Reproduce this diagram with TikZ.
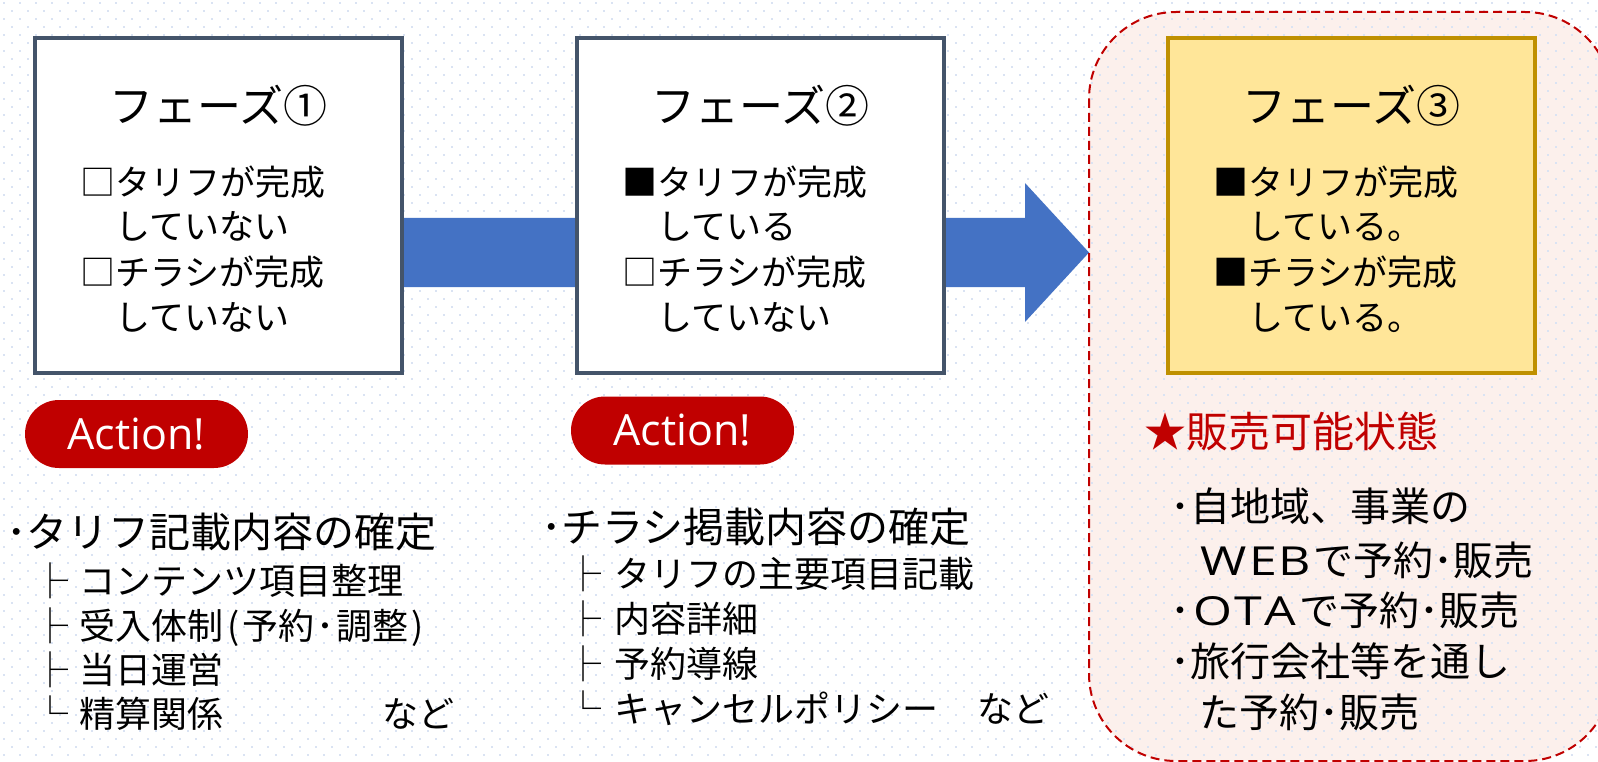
\documentclass[tikz,border=0pt]{standalone}
\usepackage{fontspec}
\usepackage{graphicx}
\setmainfont{Noto Sans CJK JP}
\newfontfamily\latinfont{Open Sans}
\newcommand{\wideltn}[1]{\scalebox{1.25}[1]{\latinfont #1}}
\definecolor{dotc}{RGB}{218,227,243}
\definecolor{pinkbg}{RGB}{252,240,236}
\definecolor{darkred}{RGB}{192,0,0}
\definecolor{slate}{RGB}{68,84,106}
\definecolor{arrowblue}{RGB}{68,114,196}
\definecolor{yel}{RGB}{255,230,153}
\definecolor{gold}{RGB}{191,144,0}
\begin{document}
\begin{tikzpicture}[x=1pt,y=-1pt,
  dotline/.style={line width=2pt,color=dotc,dash pattern=on 2pt off 14pt},
  phasebox/.style={draw=slate,fill=white,line width=4pt,minimum width=367pt,minimum height=335pt,inner sep=0pt},
  goalbox/.style={draw=gold,fill=yel,line width=4pt,minimum width=367pt,minimum height=335pt,inner sep=0pt},
  hdr/.style={font=\fontsize{44}{50}\selectfont,inner sep=0pt,anchor=base},
  bl/.style={font=\fontsize{35}{42}\selectfont,inner sep=0pt,anchor=base west},
  pill/.style={fill=darkred,text=white,rounded corners=34pt,minimum width=223pt,minimum height=68pt,inner sep=0pt,font=\latinfont\fontsize{43}{48}\selectfont},
  lhead/.style={font=\fontsize{41}{48}\selectfont,inner sep=0pt,anchor=base west},
  sub/.style={font=\fontsize{36}{42}\selectfont,inner sep=0pt,anchor=base west},
  rl/.style={font=\fontsize{40}{46}\selectfont,inner sep=0pt,anchor=base west}]
\path[use as bounding box,fill=white] (0,0) rectangle (1598,762);
\clip (0,0) rectangle (1598,762);
% pink region fill
\fill[pinkbg,rounded corners=87pt] (1089,12) rectangle (1612,761);
% dot grid
\foreach \k in {0,...,94}{
  \pgfmathsetmacro\yy{3+8*\k}
  \pgfmathsetmacro\xx{3+8*mod(\k,2)}
  \draw[dotline] (\xx,\yy) -- (1600,\yy);
}
% big arrow
\fill[arrowblue] (395,218) -- (1025,218) -- (1025,183) -- (1089,252.5) -- (1025,322) -- (1025,287) -- (395,287) -- cycle;
% dashed region border
\draw[darkred,line width=2pt,dash pattern=on 9pt off 5pt,rounded corners=87pt] (1089,12) rectangle (1612,761);
% boxes
\node[phasebox] (b1) at (218.5,205.5) {};
\node[phasebox] (b2) at (760.5,205.5) {};
\node[goalbox] (b3) at (1351.5,205.5) {};
% box 1 text
\node[hdr] (h1) at (218.5,123) {フェーズ①};
\node[bl] (b1l1) at (80,196) {□タリフが完成};
\node[bl] (b1l2) at (115,240) {していない};
\node[bl] (b1l3) at (80,285) {□チラシが完成};
\node[bl] (b1l4) at (115,330) {していない};
% box 2 text
\node[hdr] (h2) at (760.5,123) {フェーズ②};
\node[bl] (b2l1) at (622,196) {■タリフが完成};
\node[bl] (b2l2) at (657,240) {している};
\node[bl] (b2l3) at (622,285) {□チラシが完成};
\node[bl] (b2l4) at (657,330) {していない};
% box 3 text
\node[hdr] (h3) at (1351.5,123) {フェーズ③};
\node[bl] (b3l1) at (1213,196) {■タリフが完成};
\node[bl] (b3l2) at (1248,240) {している。};
\node[bl] (b3l3) at (1213,285) {■チラシが完成};
\node[bl] (b3l4) at (1248,330) {している。};
% action pills
\node[pill] (a1) at (136.5,434) {Action!};
\node[pill] (a2) at (682.5,430.5) {Action!};
% list 1
\node[lhead] (l1h) at (6,547) {･タリフ記載内容の確定};
\node[sub] (l1b1) at (32,594) {├};
\node[sub] (l1t1) at (79,594) {コンテンツ項目整理};
\node[sub] (l1b2) at (32,639) {├};
\node[sub] (l1t2) at (79,639) {受入体制\kern4pt(\kern3pt予約\kern2pt･\kern2pt調整\kern3pt)};
\node[sub] (l1b3) at (32,683) {├};
\node[sub] (l1t3) at (79,683) {当日運営};
\node[sub] (l1b4) at (32,727) {└};
\node[sub] (l1t4) at (79,727) {精算関係};
\node[sub] (l1n) at (382,727) {など};
% list 2
\node[lhead] (l2h) at (541,542) {･チラシ掲載内容の確定};
\node[sub] (l2b1) at (565,587) {├};
\node[sub] (l2t1) at (614,587) {タリフの主要項目記載};
\node[sub] (l2b2) at (565,632) {├};
\node[sub] (l2t2) at (614,632) {内容詳細};
\node[sub] (l2b3) at (565,677) {├};
\node[sub] (l2t3) at (614,677) {予約導線};
\node[sub] (l2b4) at (565,722) {└};
\node[sub] (l2t4) at (614,722) {キャンセルポリシー};
\node[sub] (l2n) at (977,722) {など};
% right list
\node[font=\fontsize{42}{48}\selectfont,inner sep=0pt,anchor=base west,text=darkred] (st) at (1144,447) {★販売可能状態};
\node[rl] (r1) at (1170,521) {･自地域、事業の};
\node[rl] (r2) at (1200,575) {\wideltn{W\kern2pt E\kern1pt B}\kern3pt で予約･販売};
\node[rl] (r3) at (1170,625) {･\kern3pt\wideltn{O\kern2pt T\kern2pt A}\kern3pt で予約･販売};
\node[rl] (r4) at (1170,676) {･旅行会社等を通し};
\node[rl] (r5) at (1199,727) {た予約･販売};
\end{tikzpicture}
\end{document}
